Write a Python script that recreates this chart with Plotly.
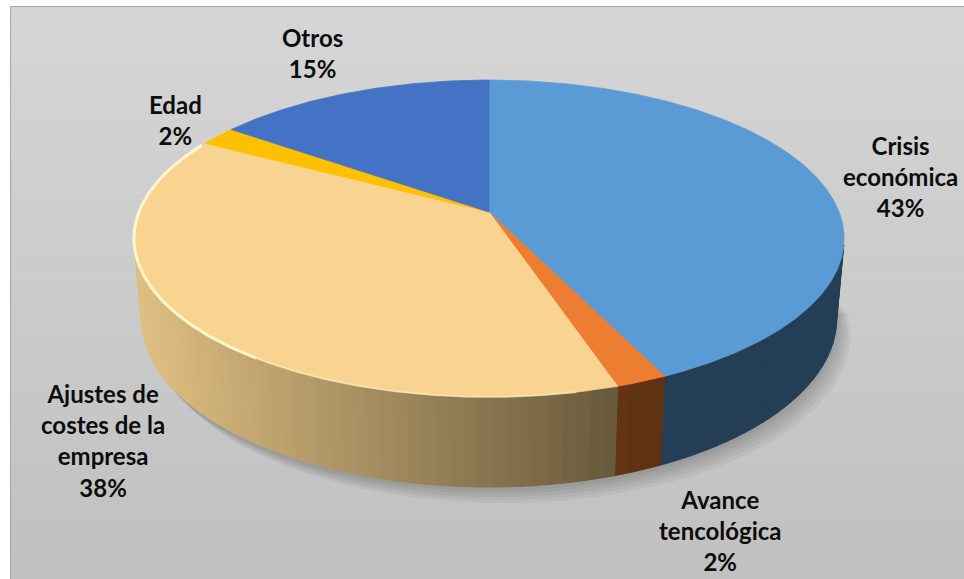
import math
import textwrap
import numpy as np
import plotly.graph_objects as go

# ---------------- data ----------------
categories = ["Crisis económica", "Avance tencológica",
              "Ajustes de costes de la empresa", "Edad", "Otros"]
values = [43, 2, 38, 2, 15]
top_colors = ["#5B9BD5", "#ED7D31", "#F8D490", "#FFC000", "#4472C4"]

# ---------------- 3D pie projection (perspective) ----------------
W, H = 964, 579
CX, CY = 489.0, 212.0
K = 1880.0
DIST = 5.37
SIN_A = 0.44
COS_A = math.sqrt(1 - SIN_A ** 2)
THICK = 0.257


def proj(X, Y, Z):
    depth = DIST - Y * SIN_A + Z * COS_A
    x = CX + K * X / depth
    y = CY - K * (Y * COS_A + Z * SIN_A) / depth
    return x, y


def arc(t0, t1, Y, step=0.5):
    n = max(2, int(abs(t1 - t0) / step) + 1)
    ts = np.linspace(t0, t1, n)
    xs, ys = [], []
    for t in ts:
        r = math.radians(t)
        x, y = proj(math.sin(r), Y, math.cos(r))
        xs.append(x)
        ys.append(y)
    return xs, ys


def hex_to_rgb(h):
    h = h.lstrip("#")
    return tuple(int(h[i:i + 2], 16) for i in (0, 2, 4))


def shade(hexcol, f):
    r, g, b = hex_to_rgb(hexcol)
    return "rgb(%d,%d,%d)" % (min(255, r * f), min(255, g * f), min(255, b * f))


total = float(sum(values))
bounds = [0.0]
for v in values:
    bounds.append(bounds[-1] + 360.0 * v / total)

# visible side range: cos(theta) < -1/(D cos a)
lim = math.degrees(math.acos(-1.0 / (DIST * COS_A)))
side_min, side_max = lim, 360.0 - lim

fig = go.Figure()

# soft shadow
for i in range(5):
    xs_t, ys_t = arc(side_min - 10, side_max + 10, -THICK)
    dx, dy = 2 + 3 * i, 4 + 3 * i
    fig.add_trace(go.Scatter(
        x=[x + dx for x in xs_t], y=[y + dy for y in ys_t],
        fill="toself", fillcolor="rgba(0,0,0,0.045)", mode="lines",
        line=dict(width=0), hoverinfo="skip", showlegend=False))

# side walls
for i, v in enumerate(values):
    a = max(bounds[i], side_min)
    b = min(bounds[i + 1], side_max)
    if a >= b:
        continue
    nstrip = max(1, int(math.ceil((b - a) / 2.0)))
    edges = np.linspace(a, b, nstrip + 1)
    for j in range(nstrip):
        t0, t1 = edges[j], edges[j + 1]
        xt, yt = arc(t0, t1, 0.0, step=0.5)
        xb, yb = arc(t1, t0, -THICK, step=0.5)
        xmid = (xt[0] + xt[-1]) / 2
        f = 0.9 - 0.48 * (xmid - 140) / 480.0
        f = max(0.4, min(0.9, f))
        col = shade(top_colors[i], f)
        fig.add_trace(go.Scatter(
            x=xt + xb + [xt[0]], y=yt + yb + [yt[0]],
            fill="toself", fillcolor=col, mode="lines",
            line=dict(width=1, color=col), hoverinfo="skip", showlegend=False))

# top faces
for i, v in enumerate(values):
    xa, ya = arc(bounds[i], bounds[i + 1], 0.0, step=0.5)
    fig.add_trace(go.Scatter(
        x=[CX] + xa + [CX], y=[CY] + ya + [CY],
        fill="toself", fillcolor=top_colors[i], mode="lines",
        line=dict(width=0.8, color=top_colors[i]),
        name=categories[i], hoverinfo="skip", showlegend=False))

# rim highlight on light slice (stronger on the left, softer at the front)
xh, yh = arc(max(bounds[2], 215), bounds[3] - 1, 0.0)
fig.add_trace(go.Scatter(x=xh, y=yh, mode="lines",
                         line=dict(width=3, color="rgba(255,249,210,0.9)"),
                         hoverinfo="skip", showlegend=False))
xh2, yh2 = arc(max(bounds[2], 168), 216, 0.0)
fig.add_trace(go.Scatter(x=xh2, y=yh2, mode="lines",
                         line=dict(width=2, color="rgba(255,249,210,0.5)"),
                         hoverinfo="skip", showlegend=False))

# ---------------- labels ----------------
label_pos = [(900, 176), (720, 530), (103, 440), (175, 120), (312, 53)]
for i, name in enumerate(categories):
    lines = textwrap.wrap(name, 12)
    txt = "<br>".join(lines + ["%d%%" % round(100 * values[i] / total)])
    fig.add_annotation(x=label_pos[i][0], y=label_pos[i][1], text=txt,
                       showarrow=False, xref="x", yref="y",
                       font=dict(family="Lato", size=24, color="#0d0d0d",
                                 weight="bold"),
                       align="center")

# ---------------- background ----------------
shapes = []
nb = 40
top_c = np.array([214, 214, 214])
bot_c = np.array([193, 193, 193])
y0, y1 = 6.0, 579.0
for k in range(nb):
    ya_ = y0 + (y1 - y0) * k / nb
    yb_ = y0 + (y1 - y0) * (k + 1) / nb
    c = top_c + (bot_c - top_c) * (k + 0.5) / nb
    col = "rgb(%d,%d,%d)" % tuple(c.astype(int))
    shapes.append(dict(type="rect", xref="x", yref="y", x0=10, x1=W,
                       y0=ya_, y1=yb_ + 0.5, fillcolor=col,
                       line=dict(width=0), layer="below"))
shapes.append(dict(type="rect", xref="x", yref="y", x0=10.5, x1=W + 2,
                   y0=6.5, y1=H + 2, fillcolor="rgba(0,0,0,0)",
                   line=dict(width=1, color="#a6a6a6"), layer="above"))

fig.update_layout(
    width=W, height=H,
    margin=dict(l=0, r=0, t=0, b=0),
    paper_bgcolor="white", plot_bgcolor="white",
    xaxis=dict(range=[0, W], visible=False, fixedrange=True),
    yaxis=dict(range=[H, 0], visible=False, fixedrange=True),
    shapes=shapes,
    showlegend=False,
)

fig.write_html("out.html",
               config={"displayModeBar": False, "staticPlot": True},
               post_script="document.body.style.margin='0';"
                           "document.body.style.overflow='hidden';")
